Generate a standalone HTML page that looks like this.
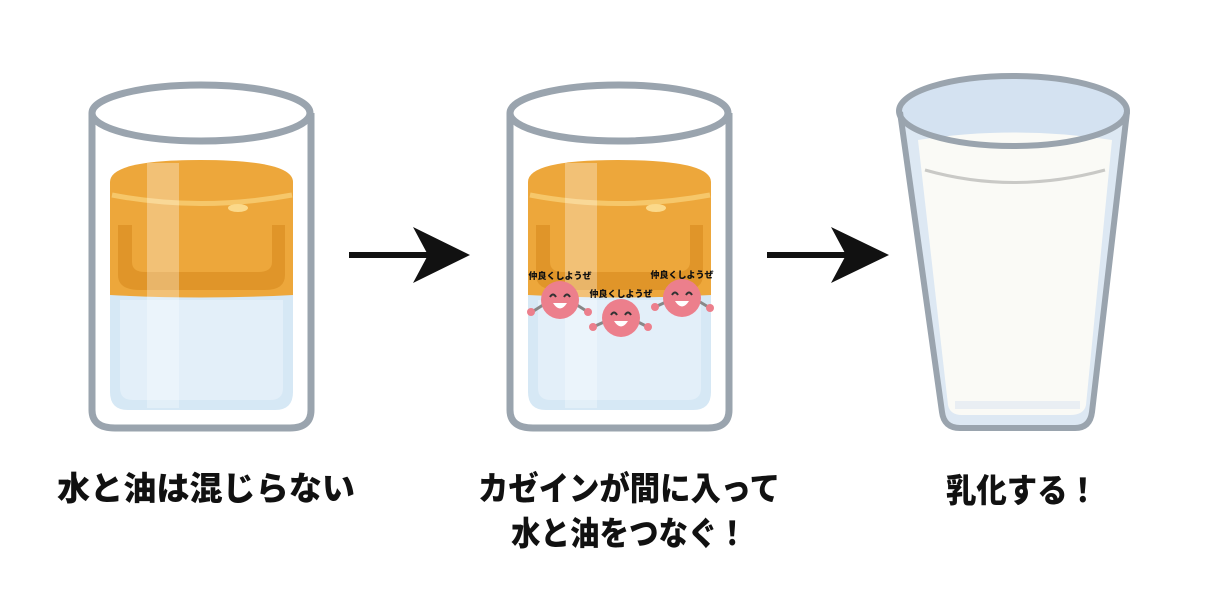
<!DOCTYPE html>
<html><head><meta charset="utf-8"><style>
body{margin:0;background:#fff;width:1230px;height:600px;overflow:hidden}
svg{position:absolute;left:0;top:0}
.t{font-family:"Liberation Sans","Noto Sans CJK JP",sans-serif;font-weight:900;fill:#111}
</style></head><body>
<svg width="1230" height="600" viewBox="0 0 1230 600">
<defs>
<g id="glass">
  <path d="M110 288 L293 288 L293 392 Q293 410 275 410 L128 410 Q110 410 110 392 Z" fill="#d6e8f5"/>
  <path d="M120 300 L283 300 L283 388 Q283 400 270 400 L133 400 Q120 400 120 388 Z" fill="#e3eff9"/>
  <path d="M110 182 Q110 160 200 160 Q293 160 293 182 L293 295 Q200 300 110 295 Z" fill="#eda73b"/>
  <path d="M118 225 L118 275 Q118 290 140 290 L265 290 Q285 290 285 275 L285 225 L272 225 L272 262 Q272 272 258 272 L145 272 Q132 272 132 262 L132 225 Z" fill="#dc9126" opacity="0.8"/>
  <path d="M112 195 Q200 212 292 195" stroke="#f6c76a" stroke-width="5" fill="none"/>
  <ellipse cx="238" cy="208" rx="10" ry="4" fill="#fbd98a"/>
  <rect x="147" y="163" width="32" height="245" fill="#fff" opacity="0.3"/>
  <path d="M92 113 L92 410 Q92 428 115 428 L290 428 Q311 428 311 410 L311 113" stroke="#9aa4ae" stroke-width="7" fill="none"/>
  <ellipse cx="201" cy="113" rx="109" ry="28" stroke="#9aa4ae" stroke-width="7" fill="none"/>
</g>
<g id="face">
  <circle r="19" fill="#ec7f8c"/>
  <path d="M-10 -3 q3 -5 6 0 M4 -3 q3 -5 6 0" stroke="#333" stroke-width="2" fill="none"/>
  <path d="M-7 3 Q0 14 7 3 Z" fill="#fff"/>
</g>
</defs>
<use href="#glass"/>
<use href="#glass" transform="translate(418,0)"/>
<g stroke="#888" stroke-width="3">
  <line x1="532" y1="312" x2="543" y2="305"/><line x1="577" y1="305" x2="588" y2="312"/>
  <line x1="593" y1="327" x2="604" y2="322"/><line x1="638" y1="322" x2="648" y2="327"/>
  <line x1="655" y1="307" x2="666" y2="302"/><line x1="700" y1="302" x2="710" y2="308"/>
</g>
<g fill="#ec7f8c"><circle cx="531" cy="312" r="4"/><circle cx="588" cy="312" r="4"/><circle cx="593" cy="327" r="4"/><circle cx="648" cy="327" r="4"/><circle cx="655" cy="307" r="4"/><circle cx="710" cy="308" r="4"/></g>
<use href="#face" x="560" y="300"/>
<use href="#face" x="621" y="318"/>
<use href="#face" x="682" y="298"/>
<g class="t" font-size="9" text-anchor="middle">
<text x="560" y="279">仲良くしようぜ</text>
<text x="621" y="297">仲良くしようぜ</text>
<text x="682" y="278">仲良くしようぜ</text>
</g>
<path d="M900 112 L942 412 Q944 428 960 428 L1075 428 Q1090 428 1092 412 L1127 112 Z" fill="#dde8f3"/>
<ellipse cx="1013" cy="111" rx="114" ry="35" fill="#d4e2f1"/>
<path d="M918 140 Q1013 125 1112 140 L1086 405 Q1084 415 1070 415 L962 415 Q950 415 948 405 Z" fill="#fafaf6"/>
<path d="M925 170 Q1013 195 1105 170" stroke="#c9c9c6" stroke-width="3" fill="none"/>
<path d="M955 405 L1080 405" stroke="#e9eef3" stroke-width="8"/>
<path d="M900 112 L942 412 Q944 428 960 428 L1075 428 Q1090 428 1092 412 L1127 112" stroke="#9aa4ae" stroke-width="6" fill="none"/>
<ellipse cx="1013" cy="111" rx="114" ry="35" stroke="#9aa4ae" stroke-width="6" fill="none"/>
<line x1="349" y1="255" x2="440" y2="255" stroke="#111" stroke-width="6"/>
<path d="M470 255 L413 227 L428 255 L413 283 Z" fill="#111"/>
<line x1="767" y1="255" x2="858" y2="255" stroke="#111" stroke-width="6"/>
<path d="M889 255 L831 227 L846 255 L831 283 Z" fill="#111"/>
<g class="t" font-size="33">
<text x="57" y="500" textLength="298" lengthAdjust="spacingAndGlyphs">水と油は混じらない</text>
<text x="478" y="500" textLength="302" lengthAdjust="spacingAndGlyphs">カゼインが間に入って</text>
<text x="511" y="545" textLength="236" lengthAdjust="spacingAndGlyphs">水と油をつなぐ！</text>
<text x="946" y="502" textLength="152" lengthAdjust="spacingAndGlyphs">乳化する！</text>
</g>
</svg>
</body></html>
